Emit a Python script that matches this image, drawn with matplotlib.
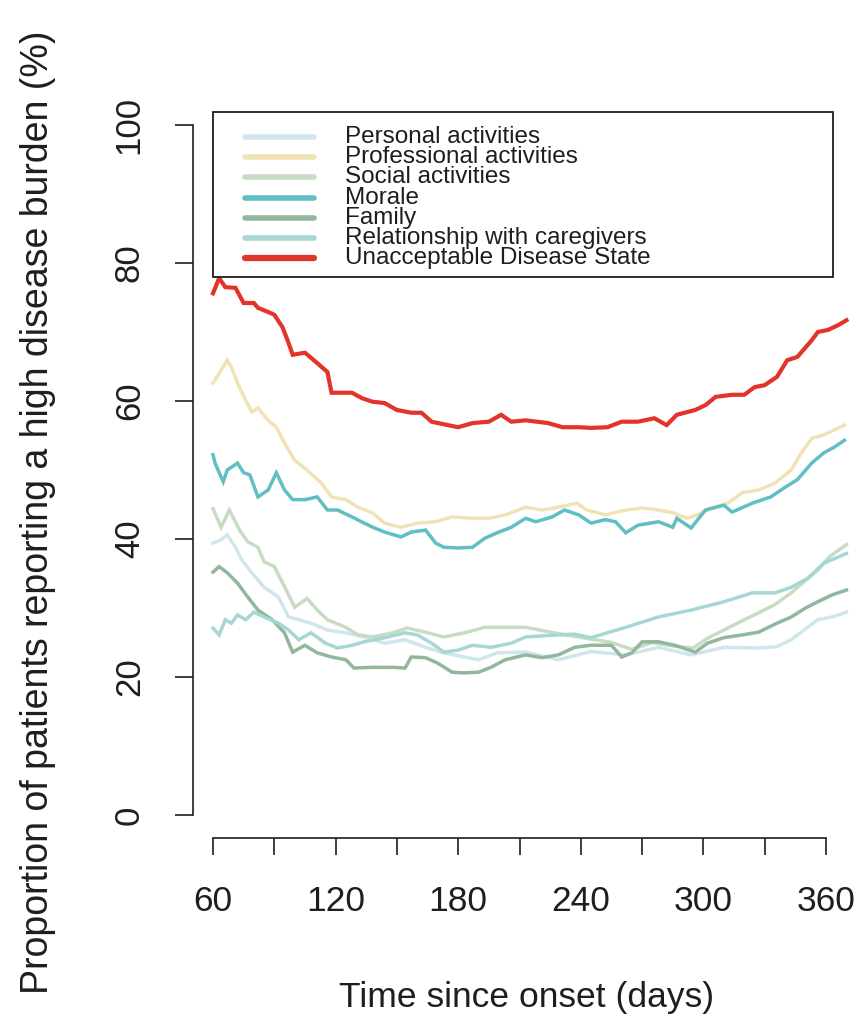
import matplotlib
matplotlib.use('Agg')
import matplotlib.pyplot as plt
from matplotlib.lines import Line2D
from matplotlib.patches import Rectangle

plt.rcParams['font.family'] = ['Liberation Sans', 'DejaVu Sans']

# ---------------- data ----------------
labels = ["Personal activities", "Professional activities", "Social activities",
          "Morale", "Family", "Relationship with caregivers", "Unacceptable Disease State"]
colors = ["#cfe7eb", "#f1e2b6", "#c7dcc3", "#5fbfc3", "#93b79c", "#a6d7d4", "#e3342b"]

personal_days = [60, 64, 67, 71, 74, 79, 85, 92, 97, 102, 108, 116, 125, 134, 144, 154, 164, 173, 183, 190,
                 199, 213, 229, 245, 262, 278, 294, 310, 327, 336, 343, 351, 356, 363, 370]
personal_vals = [39.4, 39.9, 40.6, 38.8, 37.0, 35.1, 33.0, 31.6, 28.7, 28.3, 27.8, 26.8, 26.4, 25.8, 24.9,
                 25.4, 24.3, 23.5, 22.9, 22.5, 23.5, 23.6, 22.5, 23.7, 23.2, 24.3, 23.2, 24.3, 24.2, 24.4,
                 25.4, 27.2, 28.3, 28.7, 29.4]

professional_days = [60, 63, 67, 69, 72, 76, 79, 82, 87, 91, 95, 100, 106, 113, 118, 125, 131, 138, 144, 152,
                     160, 169, 177, 187, 195, 203, 213, 221, 229, 238, 243, 252, 262, 270, 278, 285, 292, 297,
                     304, 312, 319, 327, 335, 343, 348, 353, 359, 364, 369]
professional_vals = [62.6, 64.0, 65.9, 64.9, 62.6, 60.1, 58.4, 59.0, 57.2, 56.2, 53.9, 51.4, 50.0, 48.1, 46.1,
                     45.7, 44.6, 43.8, 42.3, 41.7, 42.3, 42.5, 43.2, 43.0, 43.0, 43.5, 44.6, 44.2, 44.6, 45.2,
                     44.2, 43.5, 44.2, 44.5, 44.2, 43.8, 43.0, 43.5, 44.5, 45.2, 46.7, 47.1, 48.1, 50.0, 52.5,
                     54.6, 55.1, 55.8, 56.5]

social_days = [60, 64, 68, 73, 77, 82, 85, 90, 95, 100, 106, 111, 116, 125, 131, 138, 148, 155, 164, 173, 183,
               193, 203, 213, 225, 235, 245, 255, 265, 275, 285, 295, 302, 310, 318, 327, 335, 343, 350, 356,
               362, 370]
social_vals = [44.4, 41.7, 44.2, 41.3, 39.6, 38.8, 36.7, 36.0, 33.1, 30.1, 31.4, 29.7, 28.3, 27.2, 26.1, 25.8,
               26.4, 27.1, 26.5, 25.8, 26.4, 27.2, 27.2, 27.2, 26.5, 26.0, 25.5, 25.0, 24.0, 25.0, 24.5, 24.2,
               25.6, 26.8, 28.0, 29.3, 30.5, 32.2, 34.0, 35.5, 37.5, 39.2]

morale_days = [60, 61, 65, 67, 72, 75, 78, 82, 87, 91, 95, 99, 105, 111, 116, 121, 128, 134, 139, 144, 152,
               157, 164, 169, 173, 180, 187, 193, 199, 206, 213, 218, 226, 232, 239, 245, 252, 257, 262, 268,
               278, 285, 287, 294, 301, 310, 314, 324, 333, 340, 346, 353, 359, 364, 369]
morale_vals = [52.2, 51.0, 48.3, 50.0, 51.0, 49.6, 49.3, 46.1, 47.1, 49.6, 47.1, 45.7, 45.7, 46.1, 44.2, 44.2,
               43.2, 42.3, 41.6, 41.0, 40.3, 41.0, 41.3, 39.4, 38.8, 38.7, 38.8, 40.1, 40.9, 41.7, 43.0, 42.5,
               43.2, 44.2, 43.5, 42.3, 42.8, 42.5, 40.9, 42.0, 42.5, 41.7, 43.0, 41.6, 44.2, 44.9, 43.9, 45.2,
               46.1, 47.5, 48.6, 51.0, 52.5, 53.3, 54.3]

family_days = [60, 63, 67, 72, 77, 82, 89, 95, 99, 105, 111, 118, 125, 129, 138, 148, 154, 157, 164, 170, 177,
               183, 190, 196, 203, 213, 221, 229, 237, 245, 255, 260, 265, 270, 278, 286, 296, 302, 310, 319,
               327, 336, 343, 350, 356, 363, 370]
family_vals = [35.2, 36.0, 35.1, 33.6, 31.6, 29.7, 28.3, 26.4, 23.6, 24.6, 23.5, 22.9, 22.5, 21.3, 21.4, 21.4,
               21.3, 22.9, 22.8, 22.0, 20.7, 20.6, 20.7, 21.4, 22.5, 23.2, 22.8, 23.2, 24.3, 24.6, 24.6, 22.9,
               23.5, 25.1, 25.1, 24.6, 23.6, 24.9, 25.7, 26.1, 26.5, 27.8, 28.7, 30.0, 30.9, 31.9, 32.6]

relationship_days = [60, 63, 66, 69, 72, 76, 80, 85, 92, 97, 102, 108, 115, 121, 128, 134, 144, 154, 160, 167,
                     173, 180, 187, 196, 206, 213, 229, 237, 245, 262, 278, 294, 310, 324, 335, 343, 351, 359,
                     370]
relationship_vals = [27.1, 26.1, 28.3, 27.8, 29.0, 28.3, 29.4, 28.7, 27.8, 26.8, 25.4, 26.4, 24.9, 24.2, 24.6,
                     25.1, 25.7, 26.4, 26.1, 24.9, 23.6, 23.9, 24.6, 24.3, 24.9, 25.8, 26.1, 26.2, 25.7, 27.2,
                     28.7, 29.7, 30.9, 32.2, 32.2, 33.0, 34.3, 36.5, 37.9]

unacceptable_days = [60, 63, 66, 71, 75, 80, 82, 87, 90, 94, 97, 99, 105, 111, 116, 118, 128, 133, 138, 144,
                     150, 157, 162, 167, 175, 180, 187, 195, 201, 206, 213, 224, 231, 239, 245, 253, 260, 268,
                     276, 282, 287, 296, 301, 306, 314, 320, 325, 330, 336, 341, 346, 353, 356, 361, 366, 370]
unacceptable_vals = [75.6, 77.8, 76.5, 76.4, 74.2, 74.2, 73.5, 72.9, 72.5, 70.7, 68.4, 66.7, 67.0, 65.5, 64.2,
                     61.2, 61.2, 60.4, 59.9, 59.7, 58.7, 58.3, 58.3, 57.0, 56.5, 56.2, 56.8, 57.0, 58.0, 57.0,
                     57.2, 56.8, 56.2, 56.2, 56.1, 56.2, 57.0, 57.0, 57.5, 56.5, 58.0, 58.7, 59.4, 60.6, 60.9,
                     60.9, 62.0, 62.3, 63.5, 65.9, 66.4, 68.8, 70.0, 70.3, 71.0, 71.7]

x_ticks = [60, 90, 120, 150, 180, 210, 240, 270, 300, 330, 360]
x_ticklabels = ["60", "", "120", "", "180", "", "240", "", "300", "", "360"]
y_ticks = [0, 20, 40, 60, 80, 100]
y_ticklabels = ["0", "20", "40", "60", "80", "100"]

series = [(personal_days, personal_vals), (professional_days, professional_vals),
          (social_days, social_vals), (morale_days, morale_vals), (family_days, family_vals),
          (relationship_days, relationship_vals), (unacceptable_days, unacceptable_vals)]

# ---------------- figure ----------------
W, H = 858, 1015
fig = plt.figure(figsize=(W / 100, H / 100), dpi=100)


def fx(px):
    return px / W


def fy(py):
    return 1 - py / H


ax = fig.add_axes([fx(193), fy(838), fx(858) - fx(193), fy(105) - fy(838)])
px_per_day = (826 - 213) / 300
px_per_pct = (815 - 125) / 100
ax.set_xlim(60 - (213 - 193) / px_per_day, 60 + (858 - 213) / px_per_day)
ax.set_ylim(-(838 - 815) / px_per_pct, (815 - 105) / px_per_pct)

ink = "#1e1e1e"
for (d, v), c, lab in zip(series, colors, labels):
    lw = 3.0 if lab.startswith("Unacceptable") else 2.5
    ax.plot(d, v, color=c, lw=lw, solid_joinstyle='miter')

for s in ["top", "right"]:
    ax.spines[s].set_visible(False)
ax.spines["left"].set_bounds(0, 100)
ax.spines["bottom"].set_bounds(60, 360)
for s in ["left", "bottom"]:
    ax.spines[s].set_linewidth(1.2)
    ax.spines[s].set_color(ink)

ax.set_xticks(x_ticks)
ax.set_xticklabels(x_ticklabels, fontsize=25.5, color=ink)
ax.set_yticks(y_ticks)
ax.set_yticklabels(y_ticklabels, fontsize=25, color=ink, rotation=90, va='center')
ax.tick_params(axis='x', length=12.5, width=1.2, color=ink, pad=21)
ax.tick_params(axis='y', length=13, width=1.2, color=ink, pad=21)

fig.text(fx(527), fy(998), "Time since onset (days)", fontsize=25.5, color=ink, ha='center', va='center')
fig.text(fx(38), fy(512), "Proportion of patients reporting a high disease burden (%)", fontsize=27,
         color=ink, ha='center', va='center', rotation=90)

# ---------------- legend (drawn manually, R style) ----------------
box = Rectangle((fx(213), fy(277)), fx(833) - fx(213), fy(112) - fy(277), transform=fig.transFigure,
                facecolor='white', edgecolor=ink, lw=1.3, zorder=5)
fig.add_artist(box)
for i, (lab, c) in enumerate(zip(labels, colors)):
    yy = fy(137 + 20.2 * i)
    fig.add_artist(Line2D([fx(245), fx(314)], [yy, yy], transform=fig.transFigure, color=c,
                          lw=4.5 if i == 6 else 4.0, solid_capstyle='round', zorder=6))
    fig.text(fx(345), yy, lab, fontsize=17.5, color=ink, ha='left', va='center', zorder=6)

fig.savefig("out.png", dpi=100)
